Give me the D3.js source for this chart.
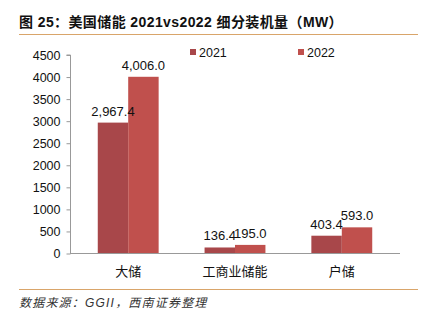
<!DOCTYPE html>
<html>
<head>
<meta charset="utf-8">
<script src="https://cdn.jsdelivr.net/npm/d3@7"></script>
<style>
  body { margin: 0; background: #fff; }
  svg text { font-family: "Liberation Sans", "Noto Sans CJK SC", sans-serif; }
</style>
</head>
<body>
<div id="chart"></div>
<script>
const width = 429;
const height = 326;

const categories = ["大储", "工商业储能", "户储"];
const seriesNames = ["2021", "2022"];
const values2021 = [2967.4, 136.4, 403.4];
const values2022 = [4006.0, 195.0, 593.0];
const yTicks = [0, 500, 1000, 1500, 2000, 2500, 3000, 3500, 4000, 4500];
const colors = ["#a8474a", "#c0504d"];

const svg = d3.select("#chart")
    .append("svg")
    .attr("width", width)
    .attr("height", height);

// title + rule
svg.append("text")
    .attr("x", 19)
    .attr("y", 27)
    .attr("font-size", 14)
    .attr("font-weight", "bold")
    .attr("fill", "#111")
    .attr("letter-spacing", 0.4)
    .text("图 25：美国储能 2021vs2022 细分装机量（MW）");

svg.append("line")
    .attr("x1", 19).attr("x2", 418)
    .attr("y1", 34.5).attr("y2", 34.5)
    .attr("stroke", "#d9a56a")
    .attr("stroke-width", 1.2);

const x0 = d3.scaleBand()
    .domain(categories)
    .range([70, 400])
    .paddingInner(0.43)
    .paddingOuter(0.26);

const x1 = d3.scaleBand()
    .domain(seriesNames)
    .range([0, x0.bandwidth()]);

const y = d3.scaleLinear()
    .domain([0, 4500])
    .range([253.5, 55]);

// y axis
const yAxis = svg.append("g")
    .attr("transform", "translate(70.5,0)")
    .call(d3.axisLeft(y).tickValues(yTicks).tickSize(4).tickPadding(6).tickFormat(d3.format("d")));
yAxis.select(".domain").attr("stroke", "#999").attr("d", "M-4," + y(4500) + "H0V" + y(0));
yAxis.selectAll(".tick line").attr("stroke", "#999");
yAxis.selectAll(".tick text")
    .attr("font-size", 12.5)
    .attr("fill", "#111")
    .style("font-family", "Liberation Sans, sans-serif");

const rows = categories.map((c, i) => ({ cat: c, vals: [values2021[i], values2022[i]] }));

const groups = svg.selectAll(".grp")
    .data(rows)
    .enter()
    .append("g")
    .attr("class", "grp")
    .attr("transform", d => `translate(${x0(d.cat)},0)`);

groups.selectAll("rect")
    .data(d => d.vals.map((v, j) => ({ key: seriesNames[j], v: v, j: j })))
    .enter()
    .append("rect")
    .attr("x", d => x1(d.key))
    .attr("y", d => y(d.v))
    .attr("width", x1.bandwidth())
    .attr("height", d => y(0) - y(d.v))
    .attr("fill", d => colors[d.j]);

groups.selectAll(".lbl")
    .data(d => d.vals.map((v, j) => ({ key: seriesNames[j], v: v, j: j })))
    .enter()
    .append("text")
    .attr("class", "lbl")
    .attr("x", d => x1(d.key) + x1.bandwidth() / 2)
    .attr("y", d => y(d.v) - 7)
    .attr("text-anchor", "middle")
    .attr("font-size", 13)
    .attr("fill", "#111")
    .text(d => d3.format(",.1f")(d.v));

// x axis
svg.append("line")
    .attr("x1", 70).attr("x2", 400)
    .attr("y1", 253.5).attr("y2", 253.5)
    .attr("stroke", "#999");

svg.selectAll(".xlab")
    .data(categories)
    .enter()
    .append("text")
    .attr("class", "xlab")
    .attr("x", d => x0(d) + x0.bandwidth() / 2)
    .attr("y", 276)
    .attr("text-anchor", "middle")
    .attr("font-size", 13)
    .attr("fill", "#111")
    .style("font-family", "Noto Sans CJK SC, sans-serif")
    .text(d => d);

// legend
const legendX = [190, 298];
seriesNames.forEach((s, i) => {
    svg.append("rect")
        .attr("x", legendX[i]).attr("y", 49)
        .attr("width", 6).attr("height", 6)
        .attr("fill", colors[i]);
    svg.append("text")
        .attr("x", legendX[i] + 9).attr("y", 57)
        .attr("font-size", 12.5)
        .attr("fill", "#111")
        .text(s);
});

// source
svg.append("line")
    .attr("x1", 19).attr("x2", 418)
    .attr("y1", 289.5).attr("y2", 289.5)
    .attr("stroke", "#d9a56a")
    .attr("stroke-width", 1.2);

svg.append("text")
    .attr("x", 19)
    .attr("y", 307)
    .attr("font-size", 12)
    .attr("font-style", "italic")
    .attr("letter-spacing", 1.2)
    .attr("fill", "#333")
    .text("数据来源：GGII，西南证券整理");
</script>
</body>
</html>
